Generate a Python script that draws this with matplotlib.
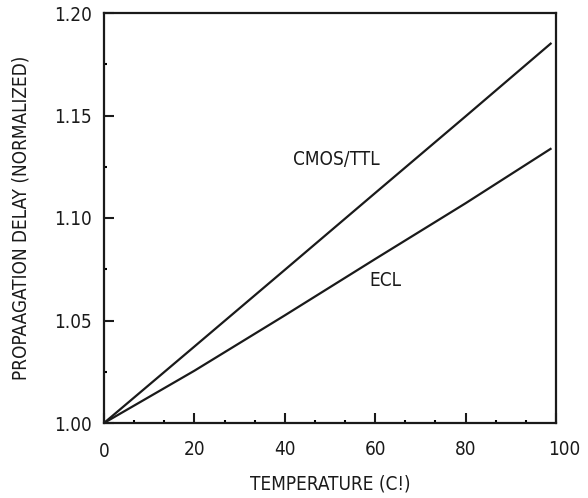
import matplotlib
matplotlib.use("Agg")
import matplotlib.pyplot as plt
import matplotlib.transforms as mtransforms
from matplotlib.ticker import MultipleLocator

plt.rcParams['font.family'] = ['Liberation Sans Narrow', 'DejaVu Sans']
plt.rcParams['font.stretch'] = 'condensed'

temperature = [0, 20, 40, 60, 80, 99]
cmos_ttl = [1.000, 1.0373, 1.0747, 1.1122, 1.1496, 1.1854]
ecl = [1.000, 1.0255, 1.0525, 1.0800, 1.1072, 1.1340]

x_ticks = [0, 20, 40, 60, 80, 100]
y_ticks = [1.00, 1.05, 1.10, 1.15, 1.20]
y_tick_labels = ["1.00", "1.05", "1.10", "1.15", "1.20"]

INK = "#1a1a1a"
FS = 13.6

fig = plt.figure(figsize=(5.88, 4.98), dpi=100)
ax = fig.add_axes([104 / 588, 1 - 423 / 498, 452 / 588, 410 / 498])

ax.plot(temperature, cmos_ttl, color=INK, lw=1.6, solid_capstyle="butt")
ax.plot(temperature, ecl, color=INK, lw=1.6, solid_capstyle="butt")

ax.text(51.3, 1.1285, "CMOS/TTL", fontsize=FS, ha="center", va="center", color=INK)
ax.text(62.2, 1.0694, "ECL", fontsize=FS, ha="center", va="center", color=INK)

ax.set_xlim(0, 100)
ax.set_ylim(1.00, 1.20)
ax.set_xticks(x_ticks)
ax.set_yticks(y_ticks)
ax.set_yticklabels(y_tick_labels)
ax.xaxis.set_minor_locator(MultipleLocator(20 / 3))
ax.yaxis.set_minor_locator(MultipleLocator(0.025))

for s in ax.spines.values():
    s.set_linewidth(1.6)
    s.set_color(INK)

ax.tick_params(axis="both", which="major", direction="in", length=7.5, width=1.5,
               labelsize=FS, colors=INK)
ax.tick_params(axis="both", which="minor", direction="in", length=2.5, width=1.5)
ax.tick_params(axis="x", which="major", pad=12.5)
ax.tick_params(axis="y", which="major", pad=9)
ax.tick_params(top=False, right=False, which="both")

# last x tick label sits a little right of its tick, first one a little lower
offset = mtransforms.ScaledTranslation(8 / 100, 0, fig.dpi_scale_trans)
labels = ax.get_xticklabels()
labels[-1].set_transform(labels[-1].get_transform() + offset)
off0 = mtransforms.ScaledTranslation(0, -2 / 100, fig.dpi_scale_trans)
labels[0].set_transform(labels[0].get_transform() + off0)

ax.set_xlabel("TEMPERATURE (C!)", fontsize=FS, color=INK)
ax.xaxis.set_label_coords(0.5, -(483.5 - 423) / 410)
ax.xaxis.label.set_va("center")
ax.set_ylabel("PROPAAGATION DELAY (NORMALIZED)", fontsize=FS, color=INK)
ax.yaxis.set_label_coords(-(104 - 21.5) / 452, 0.5)
ax.yaxis.label.set_va("center")

fig.savefig("out.png", dpi=100)
